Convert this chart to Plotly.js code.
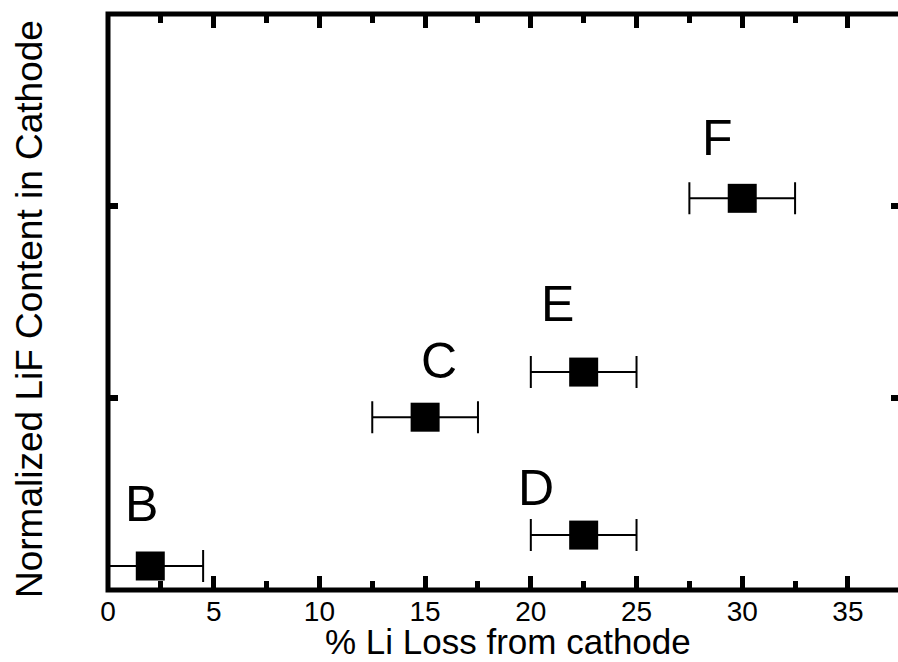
<!DOCTYPE html>
<html>
<head>
<meta charset="utf-8">
<script src="https://cdn.plot.ly/plotly-3.0.1.min.js"></script>
<style>
html, body { margin:0; padding:0; overflow:hidden; background:#fff; }
#chart { width:910px; height:662px; }
</style>
</head>
<body>
<div id="chart"></div>
<script>
// Data
const labels = ["B", "C", "D", "E", "F"];
const liLoss = [2.0, 15.0, 22.5, 22.5, 30.0];        // % Li loss from cathode
const lifContent = [0.125, 0.90, 0.286, 1.135, 2.04]; // normalized LiF content (arbitrary units)
const liLossErr = [2.5, 2.5, 2.5, 2.5, 2.5];
const xTickVals = [0, 5, 10, 15, 20, 25, 30, 35];
const yTickVals = [1, 2];
const xTitle = "% Li Loss from cathode";
const yTitle = "Normalized LiF Content in Cathode";

// label offsets in pixels (style)
const labelDx = [-9, 14, -48, -26, -25];
const labelDy = [62, 56, 47, 68, 60];

const FONT = "Arial, 'Liberation Sans', Helvetica, sans-serif";

const trace = {
  type: "scatter",
  mode: "markers",
  x: liLoss,
  y: lifContent,
  marker: { symbol: "square", size: 29, color: "#000", line: { width: 0 } },
  error_x: { type: "data", array: liLossErr, visible: true, color: "#000", thickness: 2, width: 16 },
  cliponaxis: true,
  hoverinfo: "none"
};

const annotations = labels.map((t, i) => ({
  x: liLoss[i], y: lifContent[i], xref: "x", yref: "y",
  text: t, showarrow: false,
  xshift: labelDx[i], yshift: labelDy[i],
  xanchor: "center", yanchor: "middle",
  font: { family: FONT, size: 50, color: "#000" }
}));
annotations.push({
  xref: "paper", yref: "paper", x: 0, y: 0.5, xshift: -79, yshift: -7,
  text: yTitle, textangle: -90, showarrow: false,
  xanchor: "center", yanchor: "middle",
  font: { family: FONT, size: 37, color: "#000" }
});
annotations.push({
  xref: "paper", yref: "paper", x: 0.5, y: 0, xshift: 3, yshift: -51,
  text: xTitle, showarrow: false, borderpad: 0,
  xanchor: "center", yanchor: "middle",
  font: { family: FONT, size: 35, color: "#000" }
});

const layout = {
  width: 910, height: 662,
  margin: { l: 108, r: 9, t: 14, b: 72 },
  paper_bgcolor: "#fff", plot_bgcolor: "#fff",
  showlegend: false,
  font: { family: FONT, color: "#000" },
  xaxis: {
    range: [0, 37.51],
    tickvals: xTickVals,
    ticktext: xTickVals.map(String),
    ticks: "inside", ticklen: 14, tickwidth: 5, tickcolor: "#000",
    minor: { dtick: 2.5, tick0: 0, ticks: "inside", ticklen: 9, tickwidth: 5, tickcolor: "#000" },
    showline: true, linewidth: 0, linecolor: "rgba(0,0,0,0)", mirror: "allticks",
    showgrid: false, zeroline: false,
    ticklabelstandoff: -4,
    tickfont: { family: FONT, size: 28, color: "#000" }
  },
  yaxis: {
    range: [0, 3],
    tickvals: yTickVals,
    showticklabels: false,
    ticks: "inside", ticklen: 10, tickwidth: 6, tickcolor: "#000",
    showline: true, linewidth: 0, linecolor: "rgba(0,0,0,0)", mirror: "allticks",
    showgrid: false, zeroline: false
  },
  shapes: [{
    type: "rect", xref: "paper", yref: "paper", x0: 0, x1: 1, y0: 0, y1: 1,
    line: { color: "#000", width: 5 }, fillcolor: "rgba(0,0,0,0)", layer: "above"
  }],
  annotations: annotations
};

Plotly.newPlot("chart", [trace], layout, { staticPlot: true, displayModeBar: false });
</script>
</body>
</html>
